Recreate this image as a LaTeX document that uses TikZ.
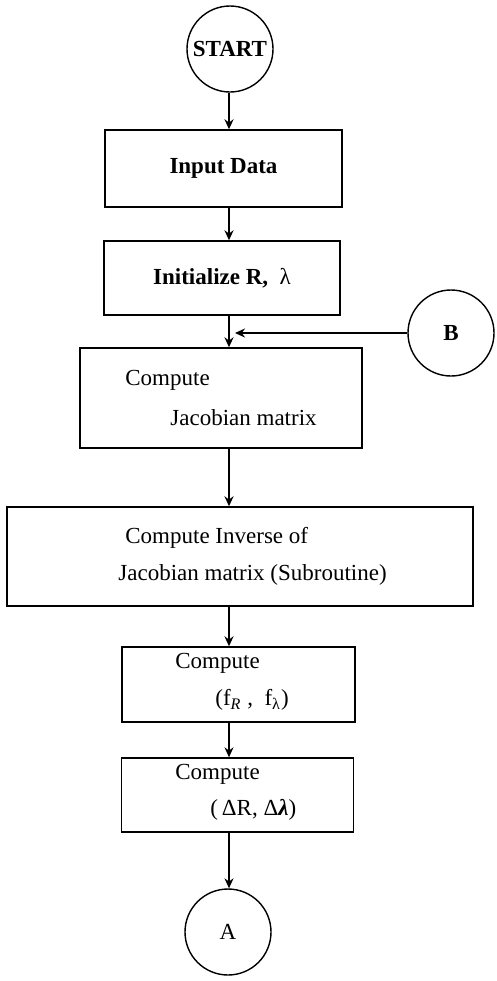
\documentclass[tikz,border=0pt]{standalone}
\usepackage{fontspec}
\setmainfont{Liberation Serif}
\usetikzlibrary{arrows.meta}

\begin{document}
\begin{tikzpicture}[x=0.5pt,y=-0.5pt,
  box/.style={draw,line width=0.7pt,inner sep=0pt,font=\fontsize{11.5}{13}\selectfont\bfseries},
  conn/.style={draw,circle,line width=0.7pt,inner sep=0pt,minimum size=43pt,font=\fontsize{11.5}{13}\selectfont},
  txt/.style={anchor=west,inner sep=0pt,font=\fontsize{11.5}{13}\selectfont},
  flow/.style={-{Stealth[length=5pt,width=4.5pt]},line width=0.9pt}]
\useasboundingbox (0,0) rectangle (497,981);
% positions are pixels of the sheet (y downwards), sizes in pt
\coordinate (spine) at (229,0);
\node[conn,font=\fontsize{11.5}{13}\selectfont\bfseries] (start) at (230,49) {START};
\node[box,minimum width=118.5pt,minimum height=38.5pt] (input) at (223.5,168.5) {Input Data};
\node[box,minimum width=118pt,minimum height=37pt] (init) at (222,278) {Initialize R,\ \ {\mdseries λ}};
\node[conn,font=\fontsize{11.5}{13}\selectfont\bfseries] (conB) at (451,333) {B};
\node[box,minimum width=141pt,minimum height=50pt] (jacob) at (221,398) {};
\node[box,minimum width=233pt,minimum height=49.5pt] (inverse) at (240,556.5) {};
\node[box,minimum width=116.5pt,minimum height=37.5pt] (fcomp) at (238.5,684.5) {};
\node[box,minimum width=116pt,minimum height=37pt] (dcomp) at (237.5,795) {};
\node[conn] (conA) at (228,932) {A};

% texts inside the boxes
\node[txt] (jacob1) at (125,380) {Compute};
\node[txt] (jacob2) at (170,418) {Jacobian matrix};
\node[txt] (inv1) at (125,538) {Compute Inverse of};
\node[txt] (inv2) at (118,575) {Jacobian matrix (Subroutine)};
\node[txt] (fcomp1) at (175,663) {Compute};
\node[txt] (fcomp2) at (215,700) {(f\textsubscript{\textit{R}}\ ,\ \ f\textsubscript{λ})};
\node[txt] (dcomp1) at (175,774) {Compute};
\node[txt] (dcomp2) at (210,810) {(\,ΔR,\ Δ\textbf{\textit{λ}})};

\draw[flow] (spine |- start.south) -- (spine |- input.north);
\draw[flow] (spine |- input.south) -- (spine |- init.north);
\draw[flow] (spine |- init.south) -- (spine |- jacob.north);
\draw[flow,shorten >=3pt] (conB.west) -- (spine |- conB.west);
\draw[flow] (spine |- jacob.south) -- (spine |- inverse.north);
\draw[flow] (spine |- inverse.south) -- (spine |- fcomp.north);
\draw[flow,line width=0.6pt] (spine |- fcomp.south) -- (spine |- dcomp.north);
\draw[flow,line width=0.6pt] (spine |- dcomp.south) -- (spine |- conA.north);
\end{tikzpicture}
\end{document}
